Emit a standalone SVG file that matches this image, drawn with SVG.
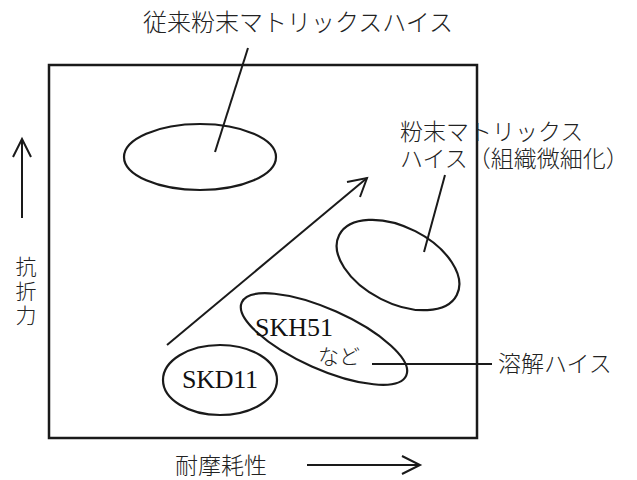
<svg xmlns="http://www.w3.org/2000/svg" width="637" height="480" viewBox="0 0 637 480">
<style>
.jp{font-family:"Noto Sans CJK JP","Noto Sans",sans-serif;font-weight:300;fill:#222;}
.en{font-family:"Liberation Serif",serif;fill:#111;}
.sh{fill:none;stroke:#1a1a1a;stroke-width:2.2;}
.ln{fill:none;stroke:#1a1a1a;stroke-width:2;}
</style>
<rect width="637" height="480" fill="#fff"/>
<g id="frame"><rect x="49" y="65" width="428" height="373" fill="none" stroke="#1a1a1a" stroke-width="2.5"/></g>
<g id="axis-y">
<line class="ln" x1="22" y1="218" x2="22" y2="139"/>
<polyline class="ln" points="13,157 22,139 31,157"/>
<text class="jp" font-size="21" x="26" y="274" text-anchor="middle">抗</text>
<text class="jp" font-size="21" x="26" y="299" text-anchor="middle">折</text>
<text class="jp" font-size="21" x="26" y="323" text-anchor="middle">力</text>
</g>
<g id="axis-x">
<text class="jp" font-size="23" x="175" y="474">耐摩耗性</text>
<line class="ln" x1="307" y1="465" x2="419" y2="465"/>
<polyline class="ln" points="402,456 420,465 402,474"/>
</g>
<g id="conventional">
<ellipse class="sh" cx="200" cy="157" rx="76" ry="33"/>
<text class="jp" font-size="24" x="143" y="31" textLength="310" lengthAdjust="spacing">従来粉末マトリックスハイス</text>
</g>
<g id="fine">
<ellipse class="sh" cx="398" cy="265" rx="66" ry="38" transform="rotate(27 398 265)"/>
<text class="jp" font-size="23" x="400" y="140">粉末マトリックス</text>
<text class="jp" font-size="23" x="400" y="167">ハイス（組織微細化）</text>
</g>
<g id="skh51">
<ellipse class="sh" cx="324" cy="339" rx="90" ry="30" transform="rotate(24 324 339)"/>
<text class="en" font-size="26" x="255" y="336" textLength="78">SKH51</text>
<text class="jp" font-size="21" x="318" y="364">など</text>
</g>
<g id="skd11">
<ellipse class="sh" cx="220" cy="380" rx="57" ry="35"/>
<text class="en" font-size="26" x="182" y="388" textLength="76">SKD11</text>
</g>
<g id="melt-label"><text class="jp" font-size="23" x="498" y="372">溶解ハイス</text></g>
<g id="connectors">
<line class="ln" x1="248" y1="48" x2="215" y2="152"/>
<line class="ln" x1="445" y1="175" x2="424" y2="252"/>
<line class="ln" x1="372" y1="364" x2="492" y2="364"/>
<line class="ln" x1="167" y1="345" x2="367" y2="178"/>
<polyline class="ln" points="347,182 367,178 360,197"/>
</g>
</svg>
